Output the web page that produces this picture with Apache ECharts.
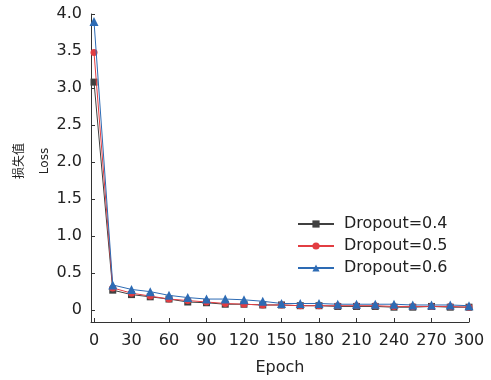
<!DOCTYPE html>
<html><head><meta charset="utf-8">
<script src="https://cdn.jsdelivr.net/npm/echarts@6/dist/echarts.min.js"></script>
<style>html,body{margin:0;padding:0;background:#fff}#c{width:491px;height:380px}</style>
</head><body><div id="c"></div>
<script>
const epochs = [0,15,30,45,60,75,90,105,120,135,150,165,180,195,210,225,240,255,270,285,300];
const seriesNames = ['Dropout=0.4','Dropout=0.5','Dropout=0.6'];
const loss04 = [3.08,0.27,0.21,0.18,0.15,0.11,0.10,0.08,0.08,0.07,0.07,0.06,0.06,0.05,0.05,0.05,0.04,0.04,0.05,0.04,0.04];
const loss05 = [3.48,0.30,0.23,0.19,0.15,0.13,0.11,0.09,0.08,0.07,0.07,0.06,0.06,0.06,0.06,0.06,0.05,0.05,0.05,0.05,0.04];
const loss06 = [3.90,0.34,0.28,0.25,0.20,0.17,0.15,0.15,0.14,0.12,0.09,0.09,0.09,0.08,0.08,0.08,0.08,0.07,0.07,0.07,0.06];
const xTicks = [0,30,60,90,120,150,180,210,240,270,300];
const yTicks = [0,0.5,1.0,1.5,2.0,2.5,3.0,3.5,4.0];

const colors = ['#404040','#e23d42','#2d6bb4'];
const symbols = ['rect','circle','triangle'];
const dataSets = [loss04, loss05, loss06];
const font = 'DejaVu Sans, Liberation Sans, sans-serif';
const axisColor = '#333';
const textColor = '#222';

const chart = echarts.init(document.getElementById('c'));
chart.setOption({
  animation: false,
  grid: {left: 91, right: 22, top: 14, bottom: 58, containLabel: false, outerBoundsMode: 'none'},
  legend: {
    orient: 'vertical', left: 292, top: 211,
    itemWidth: 36, itemHeight: 9, itemGap: 6,
    textStyle: {fontFamily: font, fontSize: 16, color: textColor, padding: [0,0,0,5]},
    data: seriesNames
  },
  xAxis: {
    type: 'value', min: -2.4, max: 300,
    name: 'Epoch', nameLocation: 'middle', nameGap: 38, nameMoveOverlap: false,
    nameTextStyle: {fontFamily: font, fontSize: 16, color: textColor},
    axisLine: {onZero: false, lineStyle: {color: axisColor, width: 1}},
    axisTick: {inside: true, length: 4, customValues: xTicks, lineStyle: {color: axisColor}},
    axisLabel: {customValues: xTicks, fontFamily: font, fontSize: 16, color: textColor, margin: 11},
    splitLine: {show: false}
  },
  yAxis: {
    type: 'value', min: -0.16, max: 4.0,
    name: '损失值\nLoss', nameLocation: 'middle', nameRotate: 90, nameGap: 34, nameMoveOverlap: false,
    nameTextStyle: {fontFamily: 'DejaVu Sans, Noto Sans CJK SC, sans-serif', fontSize: 12, color: textColor, lineHeight: 25, padding: [0,0,0,14]},
    axisLine: {show: true, onZero: false, lineStyle: {color: axisColor, width: 1}},
    axisTick: {show: true, inside: true, length: 4, customValues: yTicks, lineStyle: {color: axisColor}},
    axisLabel: {customValues: yTicks, fontFamily: font, fontSize: 16, color: textColor, margin: 9,
      formatter: v => v === 0 ? '0' : v.toFixed(1)},
    splitLine: {show: false}
  },
  series: seriesNames.map((n, i) => ({
    name: n, type: 'line',
    data: epochs.map((e, j) => [e, dataSets[i][j]]),
    symbol: symbols[i], symbolSize: i === 2 ? 9 : 7,
    showAllSymbol: true,
    lineStyle: {color: colors[i], width: 1},
    itemStyle: {color: colors[i]},
    z: 2 + i
  }))
});
</script></body></html>
